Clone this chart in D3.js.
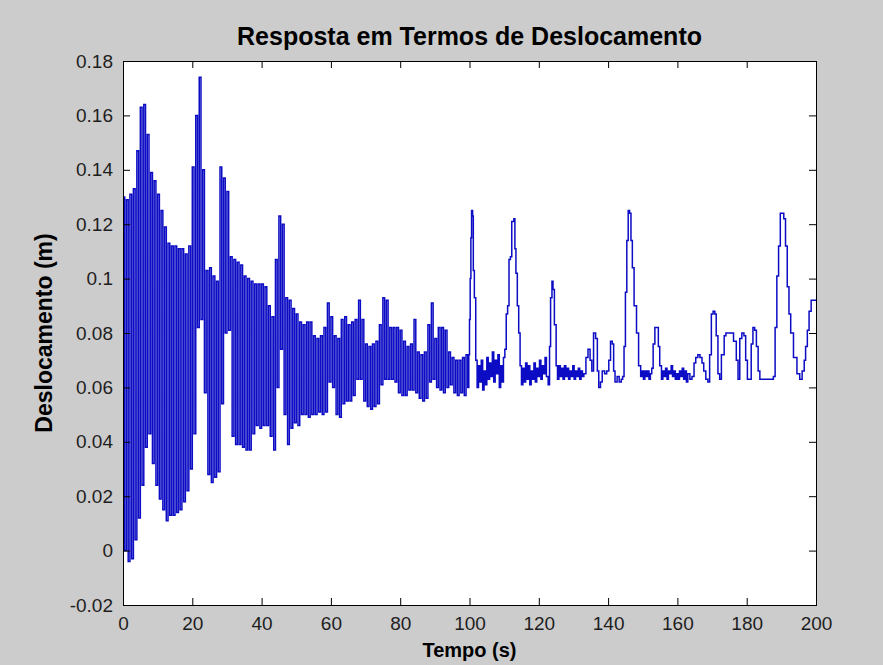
<!DOCTYPE html>
<html>
<head>
<meta charset="utf-8">
<script src="https://cdn.jsdelivr.net/npm/d3@7"></script>
<style>
    body { margin: 0; background: #cccccc; }
    svg { display: block; font-family: "Liberation Sans", Arial, sans-serif; }
</style>
</head>
<body>
<div class="chartDiv"></div>
<script>
// #region Data
// x ticks / y ticks as MATLAB prints them
const xTicks = [0, 20, 40, 60, 80, 100, 120, 140, 160, 180, 200];
const yTicks = [-0.02, 0, 0.02, 0.04, 0.06, 0.08, 0.1, 0.12, 0.14, 0.16, 0.18];
const yTickLabels = ['-0.02', '0', '0.02', '0.04', '0.06', '0.08', '0.1', '0.12', '0.14', '0.16', '0.18'];

// 0 - 100 s : fast oscillation, one upper and one lower tip per second
const upperTips = [
    0.130, 0.129, 0.131, 0.133, 0.147, 0.163, 0.164, 0.153, 0.139, 0.136,
    0.131, 0.125, 0.119, 0.113, 0.112, 0.112, 0.111, 0.111, 0.109, 0.112,
    0.141, 0.160, 0.174, 0.140, 0.103, 0.104, 0.101, 0.099, 0.141, 0.137,
    0.132, 0.108, 0.107, 0.106, 0.105, 0.101, 0.100, 0.099, 0.098, 0.098,
    0.098, 0.097, 0.090, 0.086, 0.107, 0.123, 0.120, 0.093, 0.092, 0.089,
    0.087, 0.084, 0.083, 0.084, 0.084, 0.079, 0.078, 0.079, 0.082, 0.091,
    0.086, 0.079, 0.078, 0.085, 0.086, 0.083, 0.084, 0.085, 0.092, 0.085,
    0.076, 0.075, 0.076, 0.077, 0.083, 0.093, 0.092, 0.082, 0.082, 0.082,
    0.081, 0.077, 0.075, 0.076, 0.085, 0.073, 0.072, 0.073, 0.083, 0.091,
    0.078, 0.082, 0.082, 0.081, 0.073, 0.071, 0.070, 0.070, 0.071, 0.072
];
const lowerTips = [
    0.000, -0.004, -0.003, 0.004, 0.012, 0.024, 0.038, 0.043, 0.032, 0.024,
    0.019, 0.015, 0.011, 0.013, 0.013, 0.014, 0.015, 0.018, 0.022, 0.030,
    0.043, 0.082, 0.085, 0.058, 0.028, 0.025, 0.027, 0.029, 0.054, 0.080,
    0.081, 0.042, 0.039, 0.039, 0.038, 0.037, 0.037, 0.043, 0.046, 0.045,
    0.046, 0.046, 0.042, 0.037, 0.060, 0.074, 0.050, 0.039, 0.045, 0.047,
    0.046, 0.050, 0.050, 0.049, 0.050, 0.050, 0.051, 0.050, 0.051, 0.062,
    0.060, 0.050, 0.049, 0.054, 0.055, 0.055, 0.057, 0.063, 0.063, 0.055,
    0.053, 0.052, 0.053, 0.054, 0.061, 0.063, 0.063, 0.063, 0.062, 0.058,
    0.057, 0.057, 0.059, 0.059, 0.058, 0.056, 0.055, 0.056, 0.062, 0.063,
    0.060, 0.059, 0.058, 0.060, 0.061, 0.058, 0.057, 0.058, 0.057, 0.060
];

// 100 - 200 s : [time (s), displacement (m)]
const tailPoints = [
    [99.8, 0.072], [100.0, 0.085], [100.2, 0.100], [100.4, 0.115], [100.6, 0.125], [100.9, 0.123],
    [101.1, 0.103], [101.4, 0.093], [101.8, 0.070],
    [102.2, 0.060], [102.6, 0.068], [103.0, 0.062], [103.4, 0.070], [103.8, 0.059], [104.2, 0.066],
    [104.6, 0.061], [105.0, 0.071], [105.4, 0.063], [105.8, 0.069], [106.2, 0.064], [106.6, 0.073],
    [107.0, 0.062], [107.4, 0.070], [107.8, 0.065], [108.2, 0.072], [108.6, 0.060], [109.0, 0.068],
    [109.4, 0.062], [109.8, 0.071],
    [110.2, 0.074], [110.6, 0.087], [111.0, 0.090], [111.4, 0.107], [111.8, 0.108], [112.2, 0.121],
    [112.8, 0.122], [113.1, 0.111], [113.4, 0.102], [113.8, 0.090], [114.2, 0.080], [114.6, 0.068],
    [115.0, 0.061], [115.4, 0.067], [115.8, 0.062], [116.2, 0.069], [116.6, 0.063], [117.0, 0.068],
    [117.4, 0.061], [117.8, 0.066], [118.2, 0.063], [118.6, 0.069], [119.0, 0.062], [119.4, 0.067],
    [119.8, 0.064], [120.2, 0.070], [120.6, 0.063], [121.0, 0.068], [121.4, 0.065], [121.8, 0.071],
    [122.2, 0.064], [122.7, 0.061],
    [123.1, 0.075], [123.4, 0.093], [123.8, 0.099], [124.1, 0.096], [124.5, 0.083], [125.0, 0.068],
    [125.4, 0.063], [125.8, 0.068], [126.2, 0.064], [126.6, 0.067], [127.0, 0.063], [127.4, 0.068],
    [127.8, 0.064], [128.2, 0.067], [128.6, 0.063], [129.0, 0.066], [129.4, 0.064], [129.8, 0.068],
    [130.2, 0.063], [130.6, 0.066], [131.0, 0.064], [131.4, 0.067], [131.8, 0.063], [132.2, 0.066],
    [132.6, 0.064], [133.0, 0.065],
    [133.6, 0.071], [134.2, 0.074], [134.8, 0.070], [135.3, 0.066], [135.8, 0.080], [136.4, 0.078],
    [136.9, 0.066], [137.3, 0.060], [137.8, 0.062], [138.3, 0.066], [139.0, 0.065], [139.6, 0.066],
    [140.2, 0.070], [140.7, 0.077], [141.2, 0.076], [141.6, 0.066], [142.0, 0.062], [142.6, 0.064],
    [143.2, 0.062], [143.8, 0.063], [144.2, 0.064],
    [144.6, 0.075], [145.0, 0.095], [145.4, 0.114], [145.8, 0.125], [146.2, 0.124], [146.6, 0.114],
    [147.0, 0.104], [147.5, 0.090], [148.2, 0.080], [148.8, 0.068], [149.4, 0.064],
    [149.8, 0.066], [150.2, 0.063], [150.6, 0.066], [151.0, 0.064], [151.4, 0.066], [151.8, 0.063],
    [152.2, 0.065], [152.6, 0.067],
    [153.0, 0.076], [153.5, 0.082], [154.0, 0.082], [154.5, 0.075], [154.9, 0.068], [155.4, 0.063],
    [155.8, 0.066], [156.2, 0.064], [156.6, 0.067], [157.0, 0.063], [157.4, 0.066], [157.8, 0.065],
    [158.2, 0.068], [158.6, 0.064], [159.0, 0.066], [159.4, 0.063], [159.8, 0.065], [160.2, 0.063],
    [160.6, 0.066], [161.0, 0.064], [161.4, 0.067], [161.8, 0.063], [162.2, 0.066], [162.6, 0.062],
    [163.0, 0.065], [163.6, 0.063], [164.2, 0.064],
    [164.8, 0.069], [165.3, 0.071], [165.9, 0.072], [166.5, 0.071], [167.1, 0.069], [167.6, 0.066],
    [168.2, 0.063], [168.8, 0.062],
    [169.3, 0.072], [169.8, 0.087], [170.3, 0.088], [170.8, 0.087], [171.2, 0.079], [171.7, 0.065],
    [172.2, 0.063],
    [172.7, 0.072], [173.5, 0.079], [174.0, 0.080], [175.0, 0.080], [175.8, 0.080], [176.2, 0.077],
    [177.0, 0.070], [177.5, 0.063],
    [178.0, 0.078], [178.6, 0.080], [179.2, 0.079], [179.7, 0.070], [180.2, 0.063], [180.8, 0.063],
    [181.3, 0.076], [181.8, 0.082], [182.3, 0.081], [182.8, 0.075], [183.3, 0.066], [183.8, 0.063],
    [185.0, 0.063], [186.0, 0.063], [187.0, 0.063], [187.7, 0.064],
    [188.2, 0.082], [188.7, 0.101], [189.2, 0.112], [189.7, 0.124], [190.2, 0.124], [190.7, 0.122],
    [191.2, 0.112], [191.7, 0.097], [192.2, 0.087], [192.7, 0.080], [193.5, 0.071], [194.5, 0.065],
    [195.3, 0.063], [196.0, 0.066], [196.6, 0.070], [197.0, 0.075], [197.5, 0.081], [198.0, 0.088],
    [198.6, 0.092], [200.0, 0.092]
];

const title = 'Resposta em Termos de Deslocamento';
const xTitle = 'Tempo (s)';
const yTitle = 'Deslocamento (m)';
// #endregion

// #region Main SVG
const width = 883, height = 665;
const margin = { top: 61, right: 67, bottom: 60, left: 123 };
const plotW = width - margin.left - margin.right;
const plotH = height - margin.top - margin.bottom;

const svg = d3.select('.chartDiv')
    .append('svg')
    .attr('width', width)
    .attr('height', height);

svg.append('rect')
    .attr('width', width)
    .attr('height', height)
    .attr('fill', '#cccccc');

const g = svg.append('g')
    .attr('transform', 'translate(' + margin.left + ',' + margin.top + ')');

g.append('rect')
    .attr('width', plotW)
    .attr('height', plotH)
    .attr('fill', '#ffffff');
// #endregion

// #region Scales
const xScale = d3.scaleLinear().domain([0, 200]).range([0, plotW]);
const yScale = d3.scaleLinear().domain([-0.02, 0.18]).range([plotH, 0]);
// #endregion

// #region Line
let points = [];
upperTips.forEach((v, i) => {
    points.push([i, v]);
    points.push([i + 0.5, lowerTips[i]]);
});
points = points.concat(tailPoints);

const line = d3.line()
    .x(d => xScale(d[0]))
    .y(d => yScale(d[1]))
    .curve(d3.curveStepAfter);

g.append('path')
    .datum(points)
    .attr('fill', 'none')
    .attr('stroke', '#0c0cc4')
    .attr('stroke-width', 1.5)
    .attr('d', line);
// #endregion

// #region Axes (ticks inside, box on)
const tickLen = 7;
const gX = g.append('g')
    .attr('transform', 'translate(0,' + plotH + ')')
    .call(d3.axisBottom(xScale).tickValues(xTicks).tickSizeInner(-tickLen).tickSizeOuter(0).tickPadding(12));
const gXTop = g.append('g')
    .call(d3.axisTop(xScale).tickValues(xTicks).tickSizeInner(-tickLen).tickSizeOuter(0).tickFormat(''));
const gY = g.append('g')
    .call(d3.axisLeft(yScale).tickValues(yTicks).tickSizeInner(-tickLen).tickSizeOuter(0).tickPadding(10)
        .tickFormat((d, i) => yTickLabels[i]));
const gYRight = g.append('g')
    .attr('transform', 'translate(' + plotW + ',0)')
    .call(d3.axisRight(yScale).tickValues(yTicks).tickSizeInner(-tickLen).tickSizeOuter(0).tickFormat(''));

[gX, gXTop, gY, gYRight].forEach(a => {
    a.select('.domain').remove();
    a.selectAll('line').attr('stroke', '#000');
    a.selectAll('text')
        .attr('fill', '#1e1e1e')
        .style('font-size', '19px')
        .style('font-family', '"Liberation Sans", Arial, sans-serif');
});

g.append('rect')
    .attr('x', 0.5)
    .attr('y', 0.5)
    .attr('width', plotW)
    .attr('height', plotH)
    .attr('fill', 'none')
    .attr('stroke', '#000')
    .attr('stroke-width', 1);
// #endregion

// #region Titles
svg.append('text')
    .attr('x', margin.left + plotW / 2)
    .attr('y', 45)
    .attr('text-anchor', 'middle')
    .attr('font-size', '25px')
    .attr('font-weight', 'bold')
    .attr('fill', '#000')
    .text(title);

svg.append('text')
    .attr('x', margin.left + plotW / 2)
    .attr('y', 657)
    .attr('text-anchor', 'middle')
    .attr('font-size', '20px')
    .attr('font-weight', 'bold')
    .attr('fill', '#000')
    .text(xTitle);

svg.append('text')
    .attr('transform', 'translate(52,' + (margin.top + plotH / 2) + ') rotate(-90)')
    .attr('text-anchor', 'middle')
    .attr('font-size', '23px')
    .attr('font-weight', 'bold')
    .attr('fill', '#000')
    .text(yTitle);
// #endregion
</script>
</body>
</html>
